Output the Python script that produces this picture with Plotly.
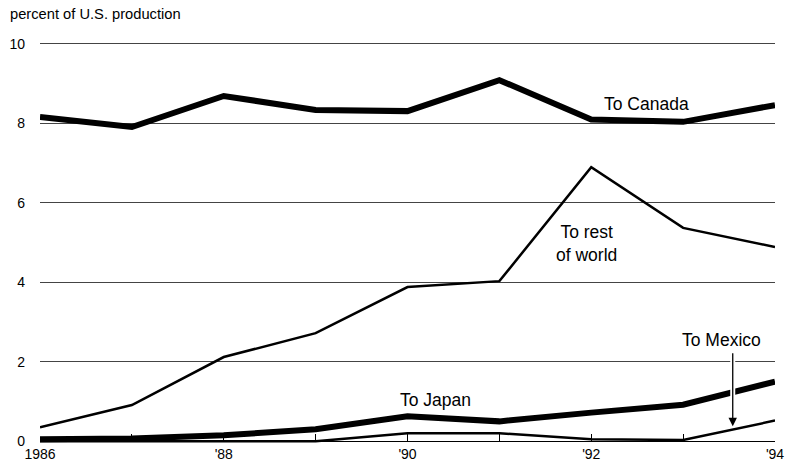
import plotly.graph_objects as go

years = [1986, 1987, 1988, 1989, 1990, 1991, 1992, 1993, 1994]
to_canada = [8.16, 7.91, 8.69, 8.34, 8.31, 9.09, 8.10, 8.04, 8.46]
to_rest_of_world = [0.35, 0.91, 2.12, 2.72, 3.88, 4.03, 6.90, 5.37, 4.89]
to_japan = [0.05, 0.07, 0.15, 0.30, 0.63, 0.50, 0.72, 0.92, 1.50]
to_mexico = [0.0, 0.0, 0.0, 0.0, 0.20, 0.20, 0.05, 0.03, 0.52]

x_tick_vals = years
x_tick_text = ["1986", "", "'88", "", "'90", "", "'92", "", "'94"]
y_tick_vals = [0, 2, 4, 6, 8, 10]

FONT = "Liberation Sans, Arial, sans-serif"

fig = go.Figure()
fig.add_trace(go.Scatter(x=years, y=to_mexico, mode="lines",
                         line=dict(color="black", width=2.5), hoverinfo="skip"))
fig.add_trace(go.Scatter(x=years, y=to_rest_of_world, mode="lines",
                         line=dict(color="black", width=2.5), hoverinfo="skip"))
fig.add_trace(go.Scatter(x=years, y=to_japan, mode="lines",
                         line=dict(color="black", width=6), hoverinfo="skip"))
fig.add_trace(go.Scatter(x=years, y=to_canada, mode="lines",
                         line=dict(color="black", width=6), hoverinfo="skip"))

# white gap behind the Mexico arrow where it crosses the Japan line
fig.add_shape(type="line", x0=1993.54, x1=1993.54, y0=2.25, y1=0.45,
              line=dict(color="white", width=5), layer="above")

annos = [
    dict(x=1992.6, y=8.5, text="To Canada"),
    dict(x=1991.95, y=4.98, text="To rest<br>of world"),
    dict(x=1990.3, y=1.05, text="To Japan"),
    dict(x=1993.42, y=2.54, text="To Mexico"),
]
for a in annos:
    fig.add_annotation(x=a["x"], y=a["y"], text=a["text"], showarrow=False,
                       font=dict(size=17.5, color="black", family=FONT),
                       xanchor="center", yanchor="middle")

fig.add_annotation(x=1993.54, y=0.38, ax=1993.54, ay=2.25, xref="x", yref="y",
                   axref="x", ayref="y", text="", showarrow=True,
                   arrowhead=2, arrowsize=1.3, arrowwidth=1.3, arrowcolor="black")

fig.add_annotation(x=0, y=1, xref="paper", yref="paper", xshift=-32, yshift=38,
                   text="percent of U.S. production", showarrow=False,
                   xanchor="left", yanchor="top",
                   font=dict(size=14.7, color="black", family=FONT))

fig.update_layout(
    width=790, height=466,
    margin=dict(l=40, r=15, t=42, b=20),
    paper_bgcolor="white", plot_bgcolor="white",
    showlegend=False,
    font=dict(family=FONT, size=14, color="black"),
    xaxis=dict(range=[1986, 1994], tickvals=x_tick_vals, ticktext=x_tick_text,
               ticks="inside", ticklen=7, tickcolor="black", tickwidth=1,
               showline=True, linecolor="black", linewidth=1,
               showgrid=False, zeroline=False, automargin=False,
               anchor="free", position=0.12 / 10.17,
               tickfont=dict(size=14)),
    yaxis=dict(range=[-0.12, 10.05], tickvals=y_tick_vals,
               showgrid=True, gridcolor="#444", gridwidth=1,
               zeroline=False, showline=False, ticks="", automargin=False,
               ticklabelstandoff=14, tickfont=dict(size=14)),
)

fig.write_html("out.html", config={"displayModeBar": False},
               post_script="document.body.style.margin='0';document.body.style.overflow='hidden';")
